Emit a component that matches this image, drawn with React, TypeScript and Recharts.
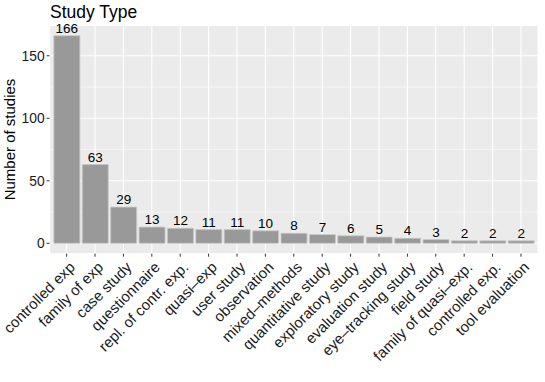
import React from "react";
import {
  BarChart,
  Bar,
  XAxis,
  YAxis,
  CartesianGrid,
  LabelList,
} from "recharts";

const categories = [
  "controlled exp",
  "family of exp",
  "case study",
  "questionnaire",
  "repl. of contr. exp.",
  "quasi–exp",
  "user study",
  "observation",
  "mixed–methods",
  "quantitative study",
  "exploratory study",
  "evaluation study",
  "eye–tracking study",
  "field study",
  "family of quasi–exp.",
  "controlled exp.",
  "tool evaluation",
];

const studies = [166, 63, 29, 13, 12, 11, 11, 10, 8, 7, 6, 5, 4, 3, 2, 2, 2];

const yTicks = [0, 50, 100, 150];
const minorTicks = [25, 75, 125];
const yDomain = [-8.3, 174.3];

const data = categories.map((name, i) => ({ name, studies: studies[i] }));

const FONT = "'Liberation Sans', Arial, Helvetica, sans-serif";

const XTick = (props: any) => {
  const { x, y, payload } = props;
  return (
    <g transform={`translate(${x},${y})`}>
      <text
        transform="rotate(-45)"
        textAnchor="end"
        y={13}
        fontSize={15}
        fill="#1a1a1a"
        fontFamily={FONT}
      >
        {payload.value}
      </text>
    </g>
  );
};

// minor grid lines, drawn under the bars
const minorGen = (props: any) => {
  const scale = props?.yAxis?.scale;
  if (typeof scale === "function") return minorTicks.map((t) => scale(t));
  if (scale && typeof scale.map === "function")
    return minorTicks.map((t) => scale.map(t));
  const off = props?.offset;
  if (!off) return [];
  const [lo, hi] = yDomain;
  return minorTicks.map(
    (t) => off.top + (off.height * (hi - t)) / (hi - lo)
  );
};

export default function App() {
  return (
    <div
      style={{
        position: "absolute",
        left: 0,
        top: 0,
        width: 545,
        height: 382,
        background: "#fff",
        fontFamily: FONT,
      }}
    >
      <div
        style={{
          position: "absolute",
          left: 50,
          top: 0.5,
          fontSize: 17.5,
          lineHeight: "22px",
          color: "#000",
        }}
      >
        Study Type
      </div>
      <svg
        width={30}
        height={382}
        style={{ position: "absolute", left: 0, top: 0 }}
      >
        <text
          transform="translate(15,139.5) rotate(-90)"
          textAnchor="middle"
          fontSize={15}
          fill="#000"
          fontFamily={FONT}
        >
          Number of studies
        </text>
      </svg>
      <BarChart
        width={545}
        height={382}
        data={data}
        margin={{ top: 25.4, right: 7, left: 0, bottom: 0 }}
        barCategoryGap="5%"
        style={{ position: "absolute", left: 0, top: 0 }}
      >
        <CartesianGrid fill="#EBEBEB" stroke="#FFFFFF" strokeWidth={1.1} />
        <CartesianGrid
          vertical={false}
          stroke="#FFFFFF"
          strokeWidth={0.55}
          horizontalCoordinatesGenerator={minorGen}
        />
        <XAxis
          dataKey="name"
          interval={0}
          height={128.3}
          padding={{ left: 2.84, right: 2.84 }}
          axisLine={false}
          tickSize={3}
          tickMargin={2.3}
          tickLine={{ stroke: "#333333" }}
          tick={<XTick />}
        />
        <YAxis
          width={49.6}
          domain={yDomain}
          ticks={yTicks}
          allowDataOverflow
          axisLine={false}
          tickSize={3}
          tickMargin={2}
          tickLine={{ stroke: "#333333" }}
          tick={{ fill: "#1a1a1a", fontSize: 13.8, fontFamily: FONT }}
        />
        <Bar
          dataKey="studies"
          fill="#999999"
          stroke="#C8C8C8"
          strokeWidth={0.8}
          isAnimationActive={false}
        >
          <LabelList
            dataKey="studies"
            position="top"
            offset={3}
            fontSize={13.5}
            fill="#000"
            fontFamily={FONT}
          />
        </Bar>
      </BarChart>
    </div>
  );
}
